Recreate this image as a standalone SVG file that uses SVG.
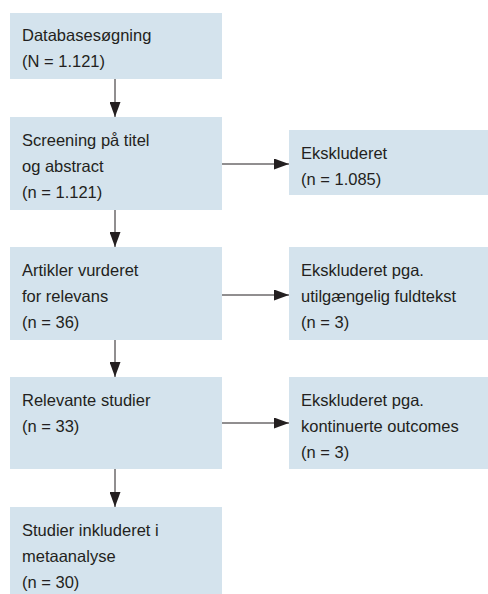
<svg xmlns="http://www.w3.org/2000/svg" width="488" height="594" viewBox="0 0 488 594">
<style>
.box{fill:#d4e3ed;}
.t{font-family:"Liberation Sans",Arial,sans-serif;font-size:16.5px;fill:#231f20;}
.c{stroke:#231f20;stroke-width:1;fill:none;}
</style>
<defs>
<marker id="ah" viewBox="0 0 15 11" refX="15" refY="5.5" markerWidth="15" markerHeight="11" markerUnits="userSpaceOnUse" orient="auto">
<path d="M0,0 L15,5.5 L0,11 Z" fill="#231f20"/>
</marker>
</defs>
<rect width="488" height="594" fill="#ffffff"/>
<g id="n1">
<rect class="box" x="10" y="13" width="212" height="66"/>
<text class="t" x="22" y="41">Databasesøgning</text>
<text class="t" x="22" y="67">(N = 1.121)</text>
</g>
<g id="n2">
<rect class="box" x="10" y="117" width="212" height="93"/>
<text class="t" x="22" y="146">Screening på titel</text>
<text class="t" x="22" y="172">og abstract</text>
<text class="t" x="22" y="198">(n = 1.121)</text>
</g>
<g id="n3">
<rect class="box" x="10" y="247" width="212" height="93"/>
<text class="t" x="22" y="276">Artikler vurderet</text>
<text class="t" x="22" y="302">for relevans</text>
<text class="t" x="22" y="328">(n = 36)</text>
</g>
<g id="n4">
<rect class="box" x="10" y="377" width="212" height="92"/>
<text class="t" x="22" y="406">Relevante studier</text>
<text class="t" x="22" y="432">(n = 33)</text>
</g>
<g id="n5">
<rect class="box" x="10" y="507" width="212" height="87"/>
<text class="t" x="22" y="536">Studier inkluderet i</text>
<text class="t" x="22" y="562">metaanalyse</text>
<text class="t" x="22" y="588">(n = 30)</text>
</g>
<g id="e1">
<rect class="box" x="289" y="130" width="199" height="65"/>
<text class="t" x="301" y="159">Ekskluderet</text>
<text class="t" x="301" y="185">(n = 1.085)</text>
</g>
<g id="e2">
<rect class="box" x="289" y="247" width="199" height="93"/>
<text class="t" x="301" y="276">Ekskluderet pga.</text>
<text class="t" x="301" y="302">utilgængelig fuldtekst</text>
<text class="t" x="301" y="328">(n = 3)</text>
</g>
<g id="e3">
<rect class="box" x="289" y="377" width="199" height="92"/>
<text class="t" x="301" y="406">Ekskluderet pga.</text>
<text class="t" x="301" y="432">kontinuerte outcomes</text>
<text class="t" x="301" y="458">(n = 3)</text>
</g>
<g id="connectors">
<line class="c" x1="115" y1="79" x2="115" y2="117" marker-end="url(#ah)"/>
<line class="c" x1="115" y1="210" x2="115" y2="247" marker-end="url(#ah)"/>
<line class="c" x1="115" y1="340" x2="115" y2="377" marker-end="url(#ah)"/>
<line class="c" x1="115" y1="469" x2="115" y2="507" marker-end="url(#ah)"/>
<line class="c" x1="222" y1="164" x2="289" y2="164" marker-end="url(#ah)"/>
<line class="c" x1="222" y1="295" x2="289" y2="295" marker-end="url(#ah)"/>
<line class="c" x1="222" y1="423" x2="289" y2="423" marker-end="url(#ah)"/>
</g>
</svg>
